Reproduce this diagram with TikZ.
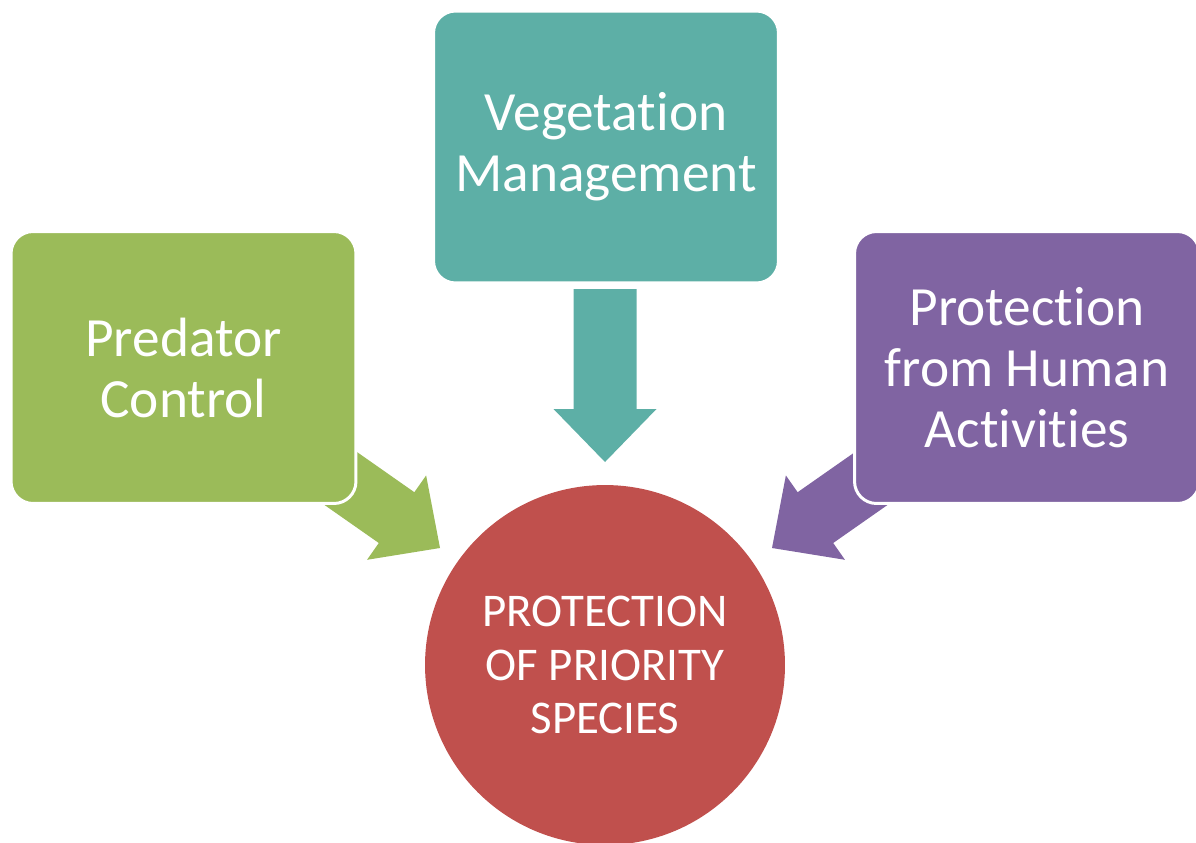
\documentclass[tikz,border=0pt]{standalone}
\usepackage{fontspec}
\setmainfont{Carlito}[Ligatures=NoCommon]
\usetikzlibrary{shapes}

\definecolor{vegteal}{HTML}{5DAFA6}
\definecolor{predgreen}{HTML}{9BBB59}
\definecolor{humanpurple}{HTML}{8064A2}
\definecolor{speciesred}{HTML}{C0504D}

\tikzset{
	box/.style={rectangle, rounded corners=0.44cm, draw=white, line width=1.7pt,
		minimum width=6.9cm, minimum height=5.44cm, align=center, text=white,
		font=\fontsize{31.5}{34.7}\selectfont},
	goal/.style={circle, minimum size=7.2cm, inner sep=0pt, align=center,
		fill=speciesred, text=white, font=\fontsize{26.7}{30.4}\selectfont}
}

\begin{document}
\begin{tikzpicture}[x=0.02cm, y=-0.02cm]
	\useasboundingbox (0,0) rectangle (1196,842);
	
	% Arrows (drawn first, boxes sit on top)
	\begin{scope}[shift={(605,462)}, rotate=-90]
		\fill[vegteal] (-173,-31.5) -- (-53,-31.5) -- (-53,-51.5) -- (0,0)
			-- (-53,51.5) -- (-53,31.5) -- (-173,31.5) -- cycle;
	\end{scope}
	\begin{scope}[shift={(440,548)}, rotate=-35]
		\fill[predgreen] (-170,-31) -- (-53,-31) -- (-53,-51.5) -- (0,0)
			-- (-53,51.5) -- (-53,31) -- (-170,31) -- cycle;
	\end{scope}
	\begin{scope}[shift={(772,548)}, rotate=-145]
		\fill[humanpurple] (-170,-31) -- (-53,-31) -- (-53,-51.5) -- (0,0)
			-- (-53,51.5) -- (-53,31) -- (-170,31) -- cycle;
	\end{scope}
	
	% Boxes
	\node[box, fill=vegteal] (veg) at (606,147) {Vegetation\\Management};
	\node[box, fill=predgreen] (pred) at (183.5,367.5) {Predator\\Control};
	\node[box, fill=humanpurple] (human) at (1027,367.5) {Protection\\from Human\\Activities};
	
	% Centre
	\node[goal] (species) at (605,665) {PROTECTION\\OF PRIORITY\\SPECIES};
	
\end{tikzpicture}
\end{document}
